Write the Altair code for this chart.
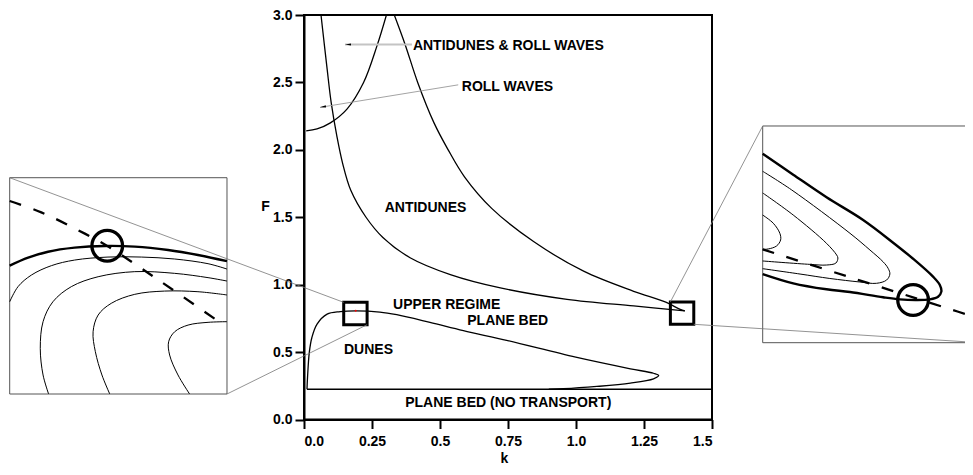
import altair as alt
import pandas as pd

W, H = 408, 404.5
KMAX, FMAX = 1.5, 3.0

# ---------------- main diagram curves (k, F) ----------------
dune_k = [0.011, 0.013, 0.0195, 0.029, 0.048, 0.085, 0.133, 0.19, 0.279, 0.341, 0.463, 0.586, 0.749, 0.999, 1.2, 1.285, 1.304, 1.285, 1.2, 1.077, 0.954, 0.9]
dune_F = [0.225, 0.314, 0.498, 0.608, 0.707, 0.781, 0.80, 0.806, 0.797, 0.777, 0.720, 0.659, 0.585, 0.462, 0.376, 0.343, 0.326, 0.302, 0.27, 0.245, 0.228, 0.225]

anti_upper_k = [0.332, 0.372, 0.418, 0.478, 0.530, 0.590, 0.69, 0.844, 1.028, 1.212, 1.33, 1.383, 1.40]
anti_upper_F = [3.0, 2.78, 2.5, 2.2, 2.0, 1.8, 1.566, 1.32, 1.1, 0.951, 0.87, 0.817, 0.806]
anti_lower_k = [1.40, 1.212, 0.967, 0.722, 0.538, 0.39, 0.29, 0.228, 0.172, 0.142, 0.121, 0.100, 0.085, 0.0625]
anti_lower_F = [0.806, 0.842, 0.891, 0.976, 1.075, 1.2, 1.35, 1.5, 1.7, 1.9, 2.1, 2.35, 2.6, 3.0]

roll_k = [0.008, 0.048, 0.097, 0.158, 0.219, 0.268, 0.303]
roll_F = [2.14, 2.155, 2.2, 2.302, 2.499, 2.769, 3.0]

notrans_k = [0.011, 1.5]
notrans_F = [0.225, 0.225]

# zoom windows (small squares) : k range, F range
sq_k0 = [0.146, 1.347]
sq_k1 = [0.232, 1.433]
sq_F0 = [0.703, 0.706]
sq_F1 = [0.869, 0.872]

# inset boxes placed in main (k, F) coordinates
box_k0 = [-1.082, 1.6864]
box_k1 = [-0.2831, 2.4842]
box_F0 = [0.1891, 0.5696]
box_F1 = [1.7933, 2.1768]

# connector lines (main coordinates)
con_k = [-1.082, -0.2831, 1.347, 1.433]
con_F = [1.7933, 0.1891, 0.872, 0.706]
con_k2 = [0.146, 0.232, 1.6864, 2.4842]
con_F2 = [0.869, 0.703, 2.1768, 0.5696]

# region labels
lab_text = ["ANTIDUNES & ROLL WAVES", "ROLL WAVES", "ANTIDUNES", "UPPER REGIME", "PLANE BED",
            "DUNES", "PLANE BED (NO TRANSPORT)"]
lab_k = [0.7511, 0.748, 0.4467, 0.5246, 0.749, 0.237, 0.751]
lab_F = [2.770, 2.468, 1.567, 0.850, 0.7325, 0.517, 0.124]

# leader lines
lead_k = [0.1507, 0.0588]
lead_F = [2.781, 2.315]
lead_k2 = [0.397, 0.567]
lead_F2 = [2.781, 2.482]
lead_col = ["#c4c4c4", "#999999"]
lead_w = [2.0, 0.9]
arrow_angle = [0, 350.6]

# ---------------- left inset (zoom of dune crest) ----------------
L_thick_k = [0.1460, 0.1533, 0.1612, 0.1717, 0.1836, 0.1955, 0.2087, 0.2205, 0.2320]
L_thick_F = [0.8015, 0.8076, 0.8122, 0.8153, 0.8166, 0.8161, 0.8135, 0.8097, 0.8050]
L_a_k = [0.1460, 0.1493, 0.1546, 0.1625, 0.1717, 0.1849, 0.1981, 0.2113, 0.2245, 0.2320]
L_a_F = [0.7738, 0.7854, 0.7943, 0.8015, 0.8058, 0.8081, 0.8081, 0.8066, 0.8030, 0.7989]
L_b_k = [0.1614, 0.1592, 0.1581, 0.1592, 0.1631, 0.1704, 0.1810, 0.1955, 0.2113, 0.2245, 0.2320]
L_b_F = [0.7030, 0.7176, 0.7380, 0.7585, 0.7738, 0.7854, 0.7930, 0.7969, 0.7956, 0.7923, 0.7897]
L_c_k = [0.1856, 0.1825, 0.1799, 0.1790, 0.1810, 0.1862, 0.1955, 0.2073, 0.2205, 0.2320]
L_c_F = [0.7030, 0.7176, 0.7355, 0.7508, 0.7636, 0.7726, 0.7795, 0.7820, 0.7815, 0.7790]
L_d_k = [0.2172, 0.2126, 0.2093, 0.2089, 0.2113, 0.2166, 0.2245, 0.2320]
L_d_F = [0.7030, 0.7176, 0.7329, 0.7431, 0.7508, 0.7559, 0.7580, 0.7585]
L_dash_k = [0.1460, 0.1585, 0.1717, 0.1846, 0.1981, 0.2113, 0.2311]
L_dash_F = [0.8511, 0.8424, 0.8301, 0.8166, 0.7994, 0.7820, 0.7554]
L_circ_k = [0.1846]
L_circ_F = [0.8168]

# ---------------- right inset (zoom of antidune tip) ----------------
R_thick_k = [1.3470, 1.3591, 1.3723, 1.3868, 1.3987, 1.4066, 1.4145, 1.4172, 1.4178, 1.4165, 1.4132,
             1.4079, 1.4013, 1.3947, 1.3816, 1.3723, 1.3591, 1.3470]
R_thick_F = [0.8508, 0.8347, 0.8174, 0.8000, 0.7826, 0.7703, 0.7566, 0.7502, 0.7451, 0.7412, 0.7392,
             0.7387, 0.7392, 0.7408, 0.7448, 0.7469, 0.7515, 0.7586]
R_a_k = [1.3470, 1.3585, 1.3816, 1.3895, 1.3947, 1.3967, 1.3974, 1.3961, 1.3921, 1.3855, 1.3736, 1.3618, 1.3470]
R_a_F = [0.8373, 0.8230, 0.7898, 0.7770, 0.7680, 0.7630, 0.7586, 0.7540, 0.7515, 0.7525, 0.7552, 0.7586, 0.7627]
R_b_k = [1.3470, 1.3591, 1.3723, 1.3763, 1.3768, 1.3760, 1.3723, 1.3657, 1.3470]
R_b_F = [0.8207, 0.8038, 0.7821, 0.7732, 0.7709, 0.7670, 0.7655, 0.7660, 0.7686]
R_c_k = [1.3470, 1.3512, 1.3538, 1.3541, 1.3525, 1.3492, 1.3470]
R_c_F = [0.8038, 0.7975, 0.7898, 0.7847, 0.7801, 0.7778, 0.7775]
R_dash_k = [1.3470, 1.3816, 1.4211, 1.4329]
R_dash_F = [0.7775, 0.7561, 0.7318, 0.7246]
R_circ_k = [1.4066]
R_circ_F = [0.7387]

red_k = [0.190]
red_F = [0.806]

FONT = "Liberation Sans"
FS = 14


def curves(*pairs):
    rows = []
    for name, ks, fs in pairs:
        for i, (k, f) in enumerate(zip(ks, fs)):
            rows.append({"curve": name, "i": i, "k": k, "F": f})
    return pd.DataFrame(rows)


def mx(field="k", **kw):
    return alt.X(f"{field}:Q", scale=alt.Scale(domain=[0, KMAX], nice=False, zero=False), axis=None, **kw)


def my(field="F", **kw):
    return alt.Y(f"{field}:Q", scale=alt.Scale(domain=[0, FMAX], nice=False, zero=False), axis=None, **kw)


def px(k):
    return k / KMAX * W


def py(f):
    return H - f / FMAX * H


def inset_enc(idx):
    xs = alt.Scale(domain=[sq_k0[idx], sq_k1[idx]], range=[px(box_k0[idx]), px(box_k1[idx])], nice=False, zero=False)
    ys = alt.Scale(domain=[sq_F0[idx], sq_F1[idx]], range=[py(box_F0[idx]), py(box_F1[idx])], nice=False, zero=False)
    return alt.X("k:Q", scale=xs, axis=None), alt.Y("F:Q", scale=ys, axis=None)


layers = []

# main curves with axes
main_df = curves(("dunes", dune_k, dune_F))
axis_layer = alt.Chart(main_df).mark_line(color="black", strokeWidth=1.3, interpolate="catmull-rom").encode(
    x=alt.X("k:Q", scale=alt.Scale(domain=[0, KMAX], nice=False, zero=False),
            axis=alt.Axis(values=[0, 0.25, 0.5, 0.75, 1.0, 1.25, 1.5],
                          labelExpr="(datum.value == 0.25 || datum.value == 0.75 || datum.value == 1.25) ? format(datum.value, '.2f') : format(datum.value, '.1f')",
                          title="k", titleX=200, titleY=39, titleAlign="center", titleBaseline="middle",
                          labelPadding=6, tickSize=9, grid=False)),
    y=alt.Y("F:Q", scale=alt.Scale(domain=[0, FMAX], nice=False, zero=False),
            axis=alt.Axis(values=[0, 0.5, 1.0, 1.5, 2.0, 2.5, 3.0], format=".1f",
                          title="F", titleAngle=0, titleX=-39, titleY=191, titleAlign="center",
                          titleBaseline="middle", labelPadding=3, tickSize=9, grid=False)),
    detail="curve:N", order="i:Q")
layers.append(axis_layer)

other_df = curves(("anti_up", anti_upper_k, anti_upper_F), ("anti_low", anti_lower_k, anti_lower_F),
                  ("roll", roll_k, roll_F))
layers.append(alt.Chart(other_df).mark_line(color="black", strokeWidth=1.3, interpolate="catmull-rom", clip=True).encode(
    x=mx(), y=my(), detail="curve:N", order="i:Q"))

nt_df = curves(("nt", notrans_k, notrans_F))
layers.append(alt.Chart(nt_df).mark_line(color="black", strokeWidth=1.5).encode(
    x=mx(), y=my(), detail="curve:N", order="i:Q"))

# squares
sq_df = pd.DataFrame({"k0": sq_k0, "k1": sq_k1, "F0": sq_F0, "F1": sq_F1})
layers.append(alt.Chart(sq_df).mark_rect(fillOpacity=0, stroke="black", strokeWidth=3).encode(
    x=mx("k0"), x2="k1:Q", y=my("F0"), y2="F1:Q"))

# inset boxes
box_df = pd.DataFrame({"k0": box_k0, "k1": box_k1, "F0": box_F0, "F1": box_F1})
layers.append(alt.Chart(box_df).mark_rect(fillOpacity=0, stroke="#555555", strokeWidth=1).encode(
    x=mx("k0"), x2="k1:Q", y=my("F0"), y2="F1:Q"))

# connectors
con_df = pd.DataFrame({"k": con_k, "F": con_F, "k2": con_k2, "F2": con_F2})
layers.append(alt.Chart(con_df).mark_rule(color="#777777", strokeWidth=0.8).encode(
    x=mx("k"), x2="k2:Q", y=my("F"), y2="F2:Q"))

# leaders
lead_df = pd.DataFrame({"k": lead_k, "F": lead_F, "k2": lead_k2, "F2": lead_F2,
                        "col": lead_col, "w": lead_w, "ang": arrow_angle})
layers.append(alt.Chart(lead_df).mark_rule().encode(
    x=mx("k"), x2="k2:Q", y=my("F"), y2="F2:Q",
    color=alt.Color("col:N", scale=None), strokeWidth=alt.StrokeWidth("w:Q", scale=None)))
layers.append(alt.Chart(lead_df).mark_point(shape="M0,0L2,-0.35L2,0.35Z", filled=True, size=36,
                                             color="black", opacity=1).encode(
    x=mx("k"), y=my("F"), angle=alt.Angle("ang:Q", scale=None)))

# labels
lab_df = pd.DataFrame({"t": lab_text, "k": lab_k, "F": lab_F})
layers.append(alt.Chart(lab_df).mark_text(font=FONT, fontWeight="bold", fontSize=FS, color="black",
                                          align="center", baseline="middle").encode(
    x=mx(), y=my(), text="t:N"))

# red marker at dune crest
red_df = pd.DataFrame({"k": red_k, "F": red_F})
layers.append(alt.Chart(red_df).mark_point(filled=True, color="red", size=4, opacity=1).encode(x=mx(), y=my()))

# insets
for idx, (thick, thins, dash, circ) in enumerate([
    ((L_thick_k, L_thick_F), [(L_a_k, L_a_F), (L_b_k, L_b_F), (L_c_k, L_c_F), (L_d_k, L_d_F)],
     (L_dash_k, L_dash_F), (L_circ_k, L_circ_F)),
    ((R_thick_k, R_thick_F), [(R_a_k, R_a_F), (R_b_k, R_b_F), (R_c_k, R_c_F)],
     (R_dash_k, R_dash_F), (R_circ_k, R_circ_F)),
]):
    ex, ey = inset_enc(idx)
    thin_df = curves(*[(f"t{j}", a, b) for j, (a, b) in enumerate(thins)])
    layers.append(alt.Chart(thin_df).mark_line(color="black", strokeWidth=1, interpolate="catmull-rom").encode(
        x=ex, y=ey, detail="curve:N", order="i:Q"))
    ex, ey = inset_enc(idx)
    layers.append(alt.Chart(curves(("thick", *thick))).mark_line(color="black", strokeWidth=2.4,
                                                                   interpolate="catmull-rom").encode(
        x=ex, y=ey, detail="curve:N", order="i:Q"))
    ex, ey = inset_enc(idx)
    layers.append(alt.Chart(curves(("dash", *dash))).mark_line(color="black", strokeWidth=2.3, strokeDash=[12, 13],
                                                                 interpolate="catmull-rom").encode(
        x=ex, y=ey, detail="curve:N", order="i:Q"))
    ex, ey = inset_enc(idx)
    layers.append(alt.Chart(pd.DataFrame({"k": circ[0], "F": circ[1]})).mark_point(
        shape="circle", filled=False, size=940, strokeWidth=3.3, color="black", opacity=1).encode(x=ex, y=ey))

chart = alt.layer(*layers).resolve_scale(x="independent", y="independent").properties(
    width=W, height=H,
    autosize=alt.AutoSizeParams(type="none"),
    padding={"left": 296, "top": 7, "right": 253, "bottom": 47.5},
).configure(font=FONT).configure_view(stroke="black", strokeWidth=2).configure_axis(
    domainColor="black", domainWidth=2, tickColor="black", tickWidth=2,
    labelFont=FONT, labelFontSize=FS, labelFontWeight="bold", labelColor="black",
    titleFont=FONT, titleFontSize=FS, titleFontWeight="bold", titleColor="black",
)

chart.save("out.html", embed_options={"renderer": "svg", "actions": False})
